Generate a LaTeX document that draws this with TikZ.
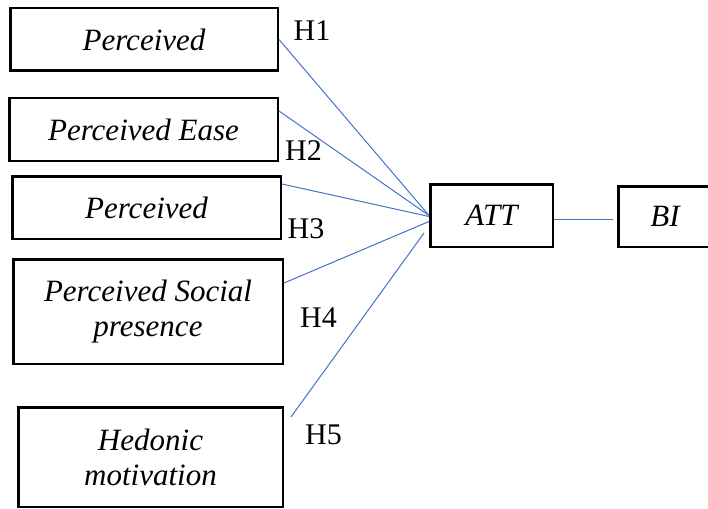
\documentclass[tikz,border=0pt]{standalone}
\usepackage{fontspec}
\setmainfont{Liberation Serif}
\newfontfamily\tnr{Liberation Serif}
\definecolor{linkblue}{RGB}{68,114,196}

\begin{document}
\begin{tikzpicture}[x=1pt,y=-1pt, box/.style={draw,line width=2.5pt,inner sep=0pt,align=center,font=\tnr\fontsize{31}{35}\selectfont\itshape}, link/.style={draw=linkblue,line width=1pt}, hyp/.style={anchor=base,inner sep=0pt,font=\tnr\fontsize{30}{34}\selectfont}]
	\useasboundingbox (0,0) rectangle (708,508);
			\node[box,minimum width=267.5pt,minimum height=62.5pt] (p_1) at (144,39.5) {Perceived};
			\node[box,minimum width=268.5pt,minimum height=62.5pt] (p_2) at (143.5,129.5) {Perceived Ease};
			\node[box,minimum width=268.5pt,minimum height=62.5pt] (p_3) at (146.5,207.5) {Perceived};
			\node[box,minimum width=269.5pt,minimum height=104.5pt] (p_4) at (148,311.5) {Perceived Social\\presence};
			\node[box,minimum width=264.5pt,minimum height=99.5pt] (p_5) at (150.5,457) {Hedonic\\motivation};
			\node[box,minimum width=122.5pt,minimum height=62.5pt] (att) at (491.5,215.5) {ATT};
			\node[box,minimum width=93.5pt,minimum height=60.5pt] (bi) at (665,216.5) {BI};
			\coordinate (h5_a) at (291,417);
			\coordinate (h5_b) at (424,233);
			\path[link]
			(p_1.east) edge (att.west)
			([yshift=-14pt]p_2.north east) edge (att.west)
			([yshift=-9pt]p_3.north east) edge ([yshift=-1pt]att.west)
			([yshift=-25pt]p_4.north east) edge ([yshift=-6pt]att.west)
			(h5_a) edge (h5_b)
			([yshift=-3.5pt]att.east) edge[shorten >=4pt] ([yshift=-2.5pt]bi.west);
			\node[hyp] (h_1) at (312,41) {H1};
			\node[hyp] (h_2) at (303.5,160) {H2};
			\node[hyp] (h_3) at (306,238) {H3};
			\node[hyp] (h_4) at (318.5,327) {H4};
			\node[hyp] (h_5) at (323.5,444) {H5};
\end{tikzpicture}
\end{document}
